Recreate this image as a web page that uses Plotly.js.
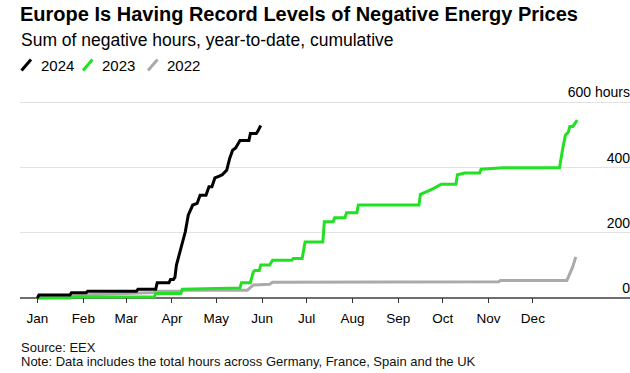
<!DOCTYPE html>
<html>
<head>
<meta charset="utf-8">
<script src="https://cdn.plot.ly/plotly-3.0.1.min.js"></script>
<style>
html,body{margin:0;padding:0;overflow:hidden;background:#fff;width:630px;height:373px;}
#chart{width:633px;height:373px;}
</style>
</head>
<body>
<div id="chart"></div>
<script>
// ---- Data (days plotted on a common Jan–Dec calendar) ----
const seriesNames = ['2024', '2023', '2022'];
const seriesColors = ['#000000', '#22e022', '#aaaaaa'];

const dates2024 = ['01-01','01-02','01-23','01-24','02-03','02-04','03-08','03-09','03-21','03-22','03-30','03-31','04-02','04-03','04-04','04-06','04-08','04-10','04-12','04-15','04-18','04-20','04-24','04-26','04-28','04-30','05-03','05-05','05-08','05-10','05-12','05-14','05-17','05-23','05-24','05-28','05-29','05-31'];
const hours2024 = [0,9,9,16,16,21,21,27,27,47,47,57,57,64,101,137,167,203,254,285,290,315,315,341,341,368,374,378,392,428,453,460,483,483,504,504,511,529];

const dates2023 = ['01-01','01-23','01-24','03-20','03-21','04-07','04-08','04-26','05-17','05-18','05-24','05-26','05-27','05-30','05-31','06-06','06-08','06-21','06-22','06-28','06-30','07-12','07-13','07-19','07-20','07-27','07-28','08-04','08-05','09-15','09-16','09-21','09-25','09-30','10-10','10-11','10-16','10-26','10-27','11-11','12-19','12-21','12-23','12-25','12-26','12-28','12-31'];
const hours2023 = [0,0,3,3,14,14,27,29,31,47,47,80,84,84,101,101,116,116,121,121,172,172,234,234,246,246,261,261,285,285,318,328,336,349,349,378,383,383,395,399,399,453,499,509,526,526,545];

const dates2022 = ['01-01','01-10','01-23','02-04','02-20','03-08','03-20','03-22','04-07','04-08','05-22','05-26','06-06','06-08','07-12','07-13','11-08','11-09','12-24','12-26','12-28','12-30'];
const hours2022 = [0,3,7,10,12,14,17,21,21,24,24,40,42,48,48,50,50,54,54,75,96,126];

const monthTicks = ['01-01','02-01','03-01','04-01','05-01','06-01','07-01','08-01','09-01','10-01','11-01','12-01'];
const monthLabels = ['Jan','Feb','Mar','Apr','May','Jun','Jul','Aug','Sep','Oct','Nov','Dec'];

const yTickVals = [0, 200, 400, 600];
const yTickText = ['0', '200', '400', '600 hours'];

const titleText = 'Europe Is Having Record Levels of Negative Energy Prices';
const subtitleText = 'Sum of negative hours, year-to-date, cumulative';
const sourceText = 'Source: EEX';
const noteText = 'Note: Data includes the total hours across Germany, France, Spain and the UK';

// ---- Layout geometry ----
const W = 633, H = 373;
const M = {l: 20, r: 0, t: 75, b: 70};
const plotW = W - M.l - M.r, plotH = H - M.t - M.b;
const px2x = p => (p - M.l) / plotW;
const px2y = p => (H - M.b - p) / plotH;

const calYear = '2024-';
const toCal = arr => arr.map(d => calYear + d);

// x range from calibration: Jan 1 at 37.4px, 1.479 px/day
const DAY = 86400000, t0 = Date.UTC(2024, 0, 1), pxPerDay = 1.479, jan1Px = 37.4;
const fmt = ms => new Date(ms).toISOString().replace('T', ' ').slice(0, 19);
const xRange = [fmt(t0 - (jan1Px - M.l) / pxPerDay * DAY), fmt(t0 + (W - M.r - jan1Px) / pxPerDay * DAY)];

// y range: 0 at 298px, 600 at 102.3px
const pxPerUnit = (298 - 102.3) / 600;
const yRange = [-(H - M.b - 298) / pxPerUnit, (298 - M.t) / pxPerUnit];

const FONT = 'Liberation Sans, Arial, sans-serif';

const dataSets = [
  {name: seriesNames[2], x: toCal(dates2022), y: hours2022, color: seriesColors[2]},
  {name: seriesNames[1], x: toCal(dates2023), y: hours2023, color: seriesColors[1]},
  {name: seriesNames[0], x: toCal(dates2024), y: hours2024, color: seriesColors[0]}
];

const traces = dataSets.map(s => ({
  type: 'scatter', mode: 'lines', name: s.name, x: s.x, y: s.y,
  line: {color: s.color, width: 3, shape: 'linear'},
  hoverinfo: 'skip', showlegend: false
}));

// Custom legend: slanted swatches + labels
const legendStarts = [21.5, 83, 148];
const shapes = [];
const annotations = [];
seriesNames.forEach((n, i) => {
  const x0 = legendStarts[i];
  shapes.push({type: 'line', xref: 'paper', yref: 'paper',
    x0: px2x(x0), y0: px2y(70.5), x1: px2x(x0 + 9.5), y1: px2y(59.5),
    line: {color: seriesColors[i], width: 3}});
  annotations.push({xref: 'paper', yref: 'paper', x: px2x(x0 + 17), y: px2y(65),
    xanchor: 'left', yanchor: 'middle', showarrow: false, text: n,
    font: {family: FONT, size: 15, color: '#000'}});
});

annotations.push({xref: 'paper', yref: 'paper', x: px2x(19), y: px2y(40),
  xanchor: 'left', yanchor: 'middle', showarrow: false, text: subtitleText,
  font: {family: FONT, size: 17.5, color: '#000'}});
annotations.push({xref: 'paper', yref: 'paper', x: px2x(19), y: px2y(347),
  xanchor: 'left', yanchor: 'middle', showarrow: false, text: sourceText,
  font: {family: FONT, size: 13, color: '#111'}});
annotations.push({xref: 'paper', yref: 'paper', x: px2x(19), y: px2y(361),
  xanchor: 'left', yanchor: 'middle', showarrow: false, text: noteText,
  font: {family: FONT, size: 13, color: '#111'}});

const layout = {
  width: W, height: H,
  margin: M,
  paper_bgcolor: '#fff', plot_bgcolor: '#fff',
  showlegend: false,
  title: {text: '<b>' + titleText + '</b>', xref: 'container', yref: 'container',
    x: 20 / W, xanchor: 'left', y: 1 - 14 / H, yanchor: 'middle',
    font: {family: FONT, size: 20, color: '#000'}},
  xaxis: {
    type: 'date', range: xRange, tickmode: 'array',
    tickvals: toCal(monthTicks), ticktext: monthLabels,
    showgrid: false, showline: false, zeroline: false,
    ticks: 'inside', ticklen: 5, tickwidth: 1, tickcolor: '#333',
    ticklabelstandoff: 5,
    tickfont: {family: FONT, size: 13.5, color: '#000'}, fixedrange: true
  },
  yaxis: {
    side: 'right', range: yRange, tickmode: 'array',
    tickvals: yTickVals, ticktext: yTickText,
    ticklabelposition: 'inside top',
    showgrid: true, gridcolor: '#e2e2e2', gridwidth: 1,
    zeroline: true, zerolinecolor: '#6e6e6e', zerolinewidth: 1.5,
    ticks: '', showline: false,
    tickfont: {family: FONT, size: 14, color: '#000'}, fixedrange: true
  },
  shapes: shapes,
  annotations: annotations
};

Plotly.newPlot('chart', traces, layout, {staticPlot: true, displayModeBar: false});
</script>
</body>
</html>
